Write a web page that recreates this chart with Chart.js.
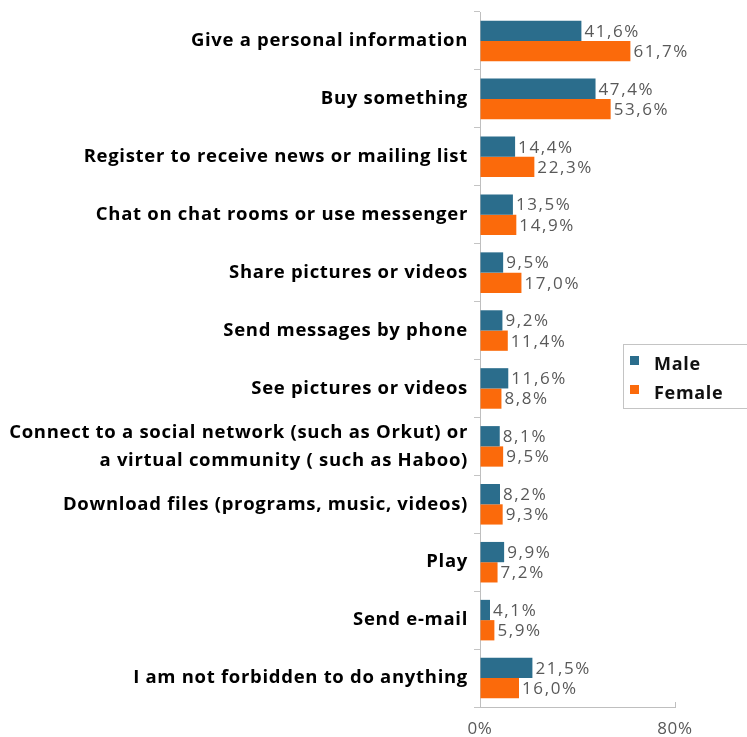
<!DOCTYPE html>
<html>
<head>
<meta charset="utf-8">
<script src="https://cdn.jsdelivr.net/npm/chart.js@4/dist/chart.umd.min.js"></script>
<style>
  html, body { margin: 0; padding: 0; background: #ffffff; }
  #wrap { width: 747px; height: 737px; }
</style>
</head>
<body>
<div id="wrap"><canvas id="c" width="747" height="737"></canvas></div>
<script>
// Activities, one bar pair per row
const categories = [
  'Give a personal information',
  'Buy something',
  'Register to receive news or mailing list',
  'Chat on chat rooms or use messenger',
  'Share pictures or videos',
  'Send messages by phone',
  'See pictures or videos',
  ['Connect to a social network (such as Orkut) or', 'a virtual community ( such as Haboo)'],
  'Download files (programs, music, videos)',
  'Play',
  'Send e-mail',
  'I am not forbidden to do anything'
];
const seriesNames = ['Male', 'Female'];
const male   = [41.6, 47.4, 14.4, 13.5, 9.5, 9.2, 11.6, 8.1, 8.2, 9.9, 4.1, 21.5];
const female = [61.7, 53.6, 22.3, 14.9, 17.0, 11.4, 8.8, 9.5, 9.3, 7.2, 5.9, 16.0];
const xTicks = [0, 80];

const MALE_COLOR = '#2b6d8c';
const FEMALE_COLOR = '#fb6a0b';
const LABEL_FONT = '"Open Sans", "DejaVu Sans", sans-serif';

const fmt = v => v.toFixed(1).replace('.', ',') + '%';

// Slightly open tracking for all chart text
const tracking = {
  id: 'tracking',
  beforeDraw(chart) {
    if ('letterSpacing' in chart.ctx) chart.ctx.letterSpacing = '0.7px';
  }
};

// Value labels at the end of each bar
const valueLabels = {
  id: 'valueLabels',
  afterDatasetsDraw(chart) {
    const ctx = chart.ctx;
    ctx.save();
    ctx.font = '17px ' + LABEL_FONT;
    ctx.fillStyle = '#595959';
    ctx.textAlign = 'left';
    ctx.textBaseline = 'middle';
    if ('letterSpacing' in ctx) ctx.letterSpacing = '1.6px';
    chart.data.datasets.forEach((ds, di) => {
      const meta = chart.getDatasetMeta(di);
      meta.data.forEach((bar, i) => {
        ctx.fillText(fmt(ds.data[i]), bar.x + 3, bar.y + 1);
      });
    });
    ctx.restore();
  }
};

// Boxed legend drawn over the right side of the chart
const boxLegend = {
  id: 'boxLegend',
  afterDraw(chart) {
    const ctx = chart.ctx;
    ctx.save();
    ctx.strokeStyle = '#c4c4c4';
    ctx.lineWidth = 1;
    ctx.strokeRect(623.5, 344.5, 140, 64);
    ctx.font = 'bold 18px ' + LABEL_FONT;
    if ('letterSpacing' in ctx) ctx.letterSpacing = '0.7px';
    ctx.textBaseline = 'middle';
    ctx.textAlign = 'left';
    chart.data.datasets.forEach((ds, i) => {
      const y = 365 + i * 29;
      ctx.fillStyle = ds.backgroundColor;
      ctx.fillRect(630, y - 9, 9, 9);
      ctx.fillStyle = '#111111';
      ctx.fillText(ds.label, 654, y);
    });
    ctx.restore();
  }
};

// Short inward tick at each value-axis label
const axisEndTick = {
  id: 'axisEndTick',
  afterDraw(chart) {
    const x = chart.scales.x;
    const ctx = chart.ctx;
    ctx.save();
    ctx.strokeStyle = '#bfbfbf';
    ctx.lineWidth = 1;
    xTicks.forEach(v => {
      const px = Math.round(x.getPixelForValue(v)) + 0.5;
      ctx.beginPath();
      ctx.moveTo(px, x.top);
      ctx.lineTo(px, x.top - 5);
      ctx.stroke();
    });
    ctx.restore();
  }
};

new Chart(document.getElementById('c'), {
  type: 'bar',
  data: {
    labels: categories,
    datasets: [
      { label: seriesNames[0], data: male, backgroundColor: MALE_COLOR },
      { label: seriesNames[1], data: female, backgroundColor: FEMALE_COLOR }
    ]
  },
  options: {
    indexAxis: 'y',
    responsive: false,
    devicePixelRatio: 1,
    animation: false,
    layout: { padding: { top: 12, right: 72, left: 0, bottom: 0 } },
    datasets: { bar: { barPercentage: 1.0, categoryPercentage: 0.7 } },
    plugins: {
      legend: { display: false },
      tooltip: { enabled: false }
    },
    scales: {
      y: {
        type: 'category',
        grid: { offset: true, drawOnChartArea: false, drawTicks: true, tickLength: 6, color: '#c4c4c4' },
        border: { color: '#bfbfbf' },
        ticks: {
          autoSkip: false,
          color: '#000000',
          padding: 6,
          font: { family: LABEL_FONT, size: 18.5, weight: 'bold', lineHeight: 1.5 }
        },
        afterFit(scale) {
          scale.width = 480;
          scale.paddingTop = 0;
          scale.paddingBottom = 0;
        }
      },
      x: {
        type: 'linear',
        min: xTicks[0],
        max: xTicks[xTicks.length - 1],
        afterBuildTicks(scale) { scale.ticks = xTicks.map(v => ({ value: v })); },
        grid: { drawOnChartArea: false, drawTicks: false },
        border: { color: '#bfbfbf' },
        ticks: {
          color: '#595959',
          padding: 12,
          font: { family: LABEL_FONT, size: 17 },
          callback: v => v + '%'
        },
        afterFit(scale) { scale.height = 30; }
      }
    }
  },
  plugins: [tracking, valueLabels, boxLegend, axisEndTick]
});
</script>
</body>
</html>
